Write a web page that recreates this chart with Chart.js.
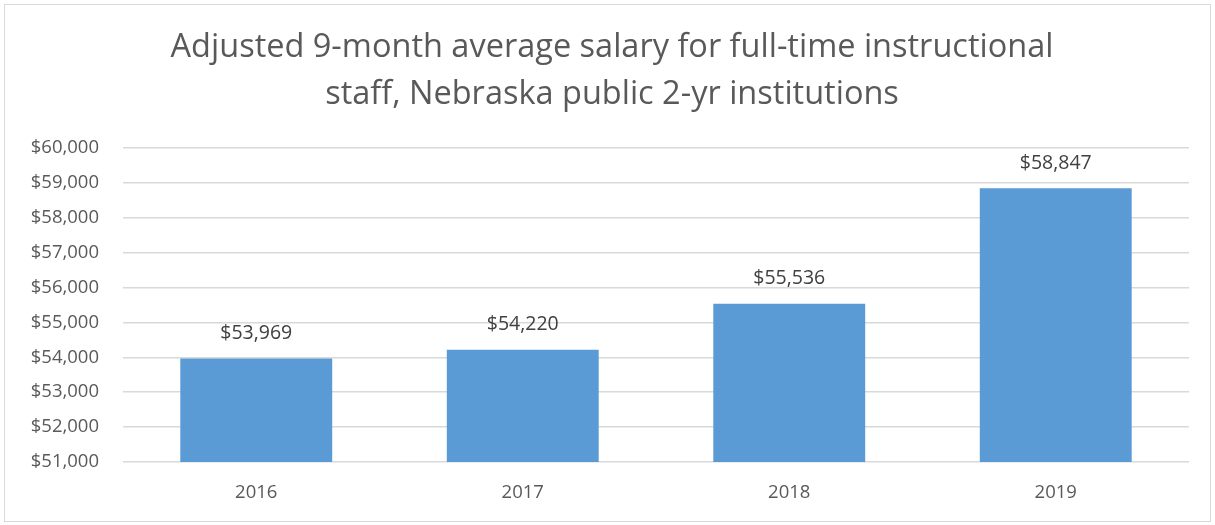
<!DOCTYPE html>
<html>
<head>
<meta charset="utf-8">
<script src="https://cdn.jsdelivr.net/npm/chart.js@4"></script>
<style>
  html, body { margin: 0; padding: 0; background: #fff; }
  #wrap { position: relative; width: 1215px; height: 525px; }
</style>
</head>
<body>
<div id="wrap"><canvas id="grafico"></canvas></div>
<script>
// datos del gráfico
const years = ["2016", "2017", "2018", "2019"];
const salaries = [53969, 54220, 55536, 58847];
const titleLines = ["Adjusted 9-month average salary for full-time instructional", "staff, Nebraska public 2-yr institutions"];
const yMin = 51000, yMax = 60000, yStep = 1000;

const money = v => "$" + v.toLocaleString("en-US");
const FONT = "'Open Sans', 'Noto Sans', sans-serif";

// marco exterior, título y etiquetas de valores
const extras = {
  id: "extras",
  beforeDraw(chart) {
    const c = chart.ctx;
    c.save();
    c.strokeStyle = "#d9d9d9";
    c.lineWidth = 1;
    c.strokeRect(4.5, 4.5, chart.width - 9, chart.height - 8);
    // título centrado en todo el lienzo
    c.font = "32.5px " + FONT;
    c.fillStyle = "#595959";
    c.textAlign = "center";
    c.textBaseline = "middle";
    titleLines.forEach((t, i) => c.fillText(t, 612, 48 + i * 47));
    c.restore();
  },
  afterDatasetsDraw(chart) {
    const c = chart.ctx;
    const meta = chart.getDatasetMeta(0);
    c.save();
    c.font = "19.5px " + FONT;
    c.fillStyle = "#404040";
    c.textAlign = "center";
    c.textBaseline = "middle";
    meta.data.forEach((bar, i) => {
      c.fillText(money(salaries[i]), bar.x, bar.y - 25);
    });
    c.restore();
  }
};

new Chart(document.getElementById("grafico"), {
  type: "bar",
  data: {
    labels: years,
    datasets: [{
      data: salaries,
      backgroundColor: "#5b9bd5",
      categoryPercentage: 1,
      barPercentage: 0.57
    }]
  },
  options: {
    responsive: true,
    maintainAspectRatio: false,
    animation: false,
    layout: { padding: { left: 0, right: 26, top: 148, bottom: 0 } },
    plugins: {
      legend: { display: false },
      tooltip: { enabled: false },
      title: { display: false }
    },
    scales: {
      x: {
        grid: { display: false },
        border: { display: false },
        ticks: { color: "#595959", font: { family: FONT, size: 18.5 }, padding: 12 },
        afterFit(s) { s.height = 63; }
      },
      y: {
        min: yMin,
        max: yMax,
        border: { display: false },
        grid: { color: "#d9d9d9", lineWidth: 1.5, drawTicks: false },
        ticks: {
          stepSize: yStep,
          color: "#595959",
          font: { family: FONT, size: 18.5 },
          padding: 24,
          callback: v => money(v)
        },
        afterFit(s) { s.width = 123; }
      }
    }
  },
  plugins: [extras]
});
</script>
</body>
</html>
